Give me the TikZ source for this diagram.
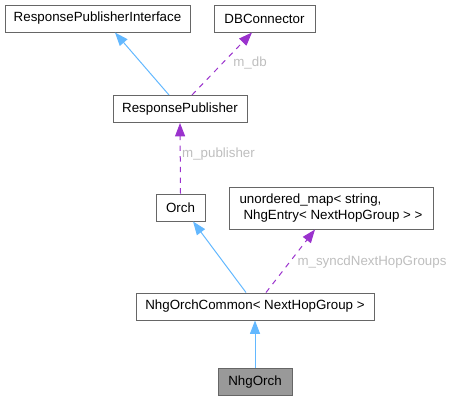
\documentclass[tikz,border=0pt]{standalone}
\usepackage{fontspec}
\setmainfont{Liberation Sans}
\usetikzlibrary{arrows.meta}
\definecolor{boxline}{HTML}{666666}
\definecolor{hlfill}{HTML}{999999}
\definecolor{inhblue}{HTML}{63B8FF}
\definecolor{usepurple}{HTML}{9A32CD}
\definecolor{lblgrey}{HTML}{BEBEBE}
\begin{document}
\begin{tikzpicture}[x=0.75pt,y=-0.75pt,
  cls/.style={draw=boxline,line width=0.75pt,fill=white,inner sep=0pt,minimum height=20.25pt,font=\fontsize{10}{12}\selectfont},
  hl/.style={cls,fill=hlfill},
  inh/.style={draw=inhblue,line width=0.75pt,-{Triangle[length=10pt,width=7.5pt]}},
  use/.style={draw=usepurple,line width=0.75pt,dash pattern=on 4pt off 4pt,-{Triangle[length=10pt,width=7.5pt]}},
  lbl/.style={text=lblgrey,inner sep=0pt,font=\fontsize{10}{12}\selectfont}]
\useasboundingbox (0,0) rectangle (452,401);
\node[cls,minimum width=138.75pt] (rpi) at (97.5,18.5) {ResponsePublisherInterface};
\node[cls,minimum width=75.75pt] (db) at (264.5,18.5) {DBConnector};
\node[cls,minimum width=100.5pt] (rp) at (180,109) {ResponsePublisher};
\node[cls,minimum width=36.75pt] (orch) at (180.5,207.5) {Orch};
\node[cls,minimum width=153pt,minimum height=31.5pt,align=left] (um) at (331,208) {unordered\_map< string,\\\hspace*{3pt}NhgEntry< NextHopGroup > >};
\node[cls,minimum width=178.5pt] (noc) at (255,306.5) {NhgOrchCommon< NextHopGroup >};
\node[hl,minimum width=55.5pt] (nhg) at (255,382) {NhgOrch};
\draw[inh] ([xshift=-8.25pt]rp.north) -- ([xshift=13.1pt]rpi.south);
\draw[use] ([xshift=9pt]rp.north) -- ([xshift=-9.4pt]db.south);
\node[lbl] (ldb) at (250,63) {m\_db};
\draw[use] (orch.north) -- (rp.south);
\node[lbl] (lpub) at (218.5,154) {m\_publisher};
\draw[inh] ([xshift=-6.75pt]noc.north) -- ([xshift=9.4pt]orch.south);
\draw[use] ([xshift=8.25pt]noc.north) -- ([xshift=-12pt]um.south);
\node[lbl] (lsync) at (372,262) {m\_syncdNextHopGroups};
\draw[inh] (nhg.north) -- (noc.south);
\end{tikzpicture}
\end{document}
